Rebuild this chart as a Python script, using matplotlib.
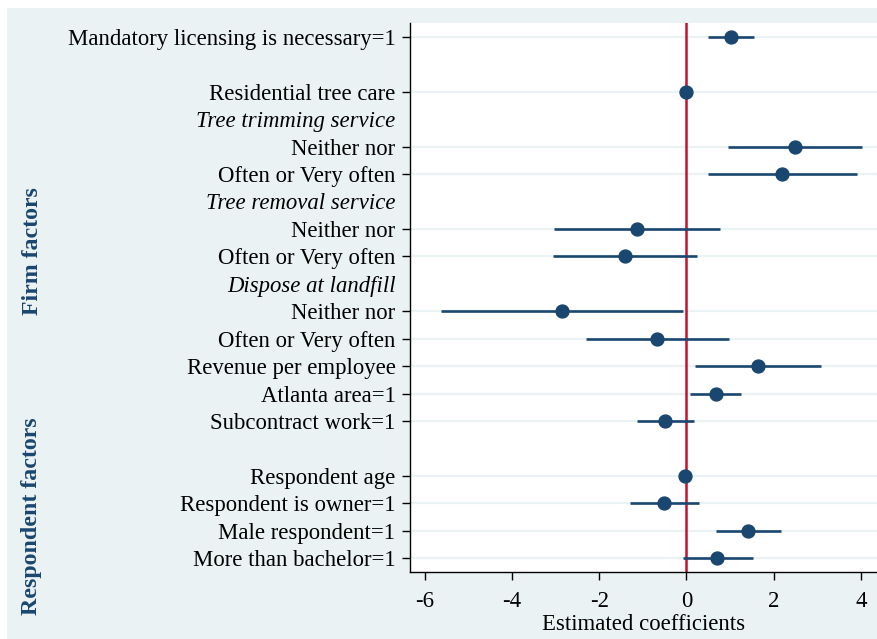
import matplotlib
matplotlib.use("Agg")
import matplotlib.pyplot as plt
import matplotlib.transforms as mtransforms
from matplotlib.patches import Rectangle
import numpy as np

plt.rcParams["font.family"] = ["Liberation Serif", "DejaVu Serif"]

# rows from top to bottom; "" is an empty spacer row
row_labels = [
    "Mandatory licensing is necessary=1",
    "",
    "Residential tree care",
    "Tree trimming service",
    "Neither nor",
    "Often or Very often",
    "Tree removal service",
    "Neither nor",
    "Often or Very often",
    "Dispose at landfill",
    "Neither nor",
    "Often or Very often",
    "Revenue per employee",
    "Atlanta area=1",
    "Subcontract work=1",
    "",
    "Respondent age",
    "Respondent is owner=1",
    "Male respondent=1",
    "More than bachelor=1",
]
header_rows = [3, 6, 9]
coef = [1.02, None, 0.0, None, 2.48, 2.19, None, -1.13, -1.41, None,
        -2.86, -0.68, 1.65, 0.67, -0.49, None, -0.03, -0.51, 1.42, 0.71]
ci_low = [0.49, None, -0.02, None, 0.95, 0.49, None, -3.03, -3.06, None,
          -5.63, -2.31, 0.20, 0.08, -1.14, None, -0.06, -1.30, 0.67, -0.08]
ci_high = [1.54, None, 0.02, None, 4.02, 3.91, None, 0.77, 0.25, None,
           -0.09, 0.97, 3.08, 1.26, 0.17, None, 0.00, 0.28, 2.17, 1.52]
# group label, centre row
groups = [("Firm factors", 7.8), ("Respondent factors", 17.45)]
xticks = [-6, -4, -2, 0, 2, 4]

navy = "#1a476f"
bg = "#eaf2f3"
fs = 16.4

fig = plt.figure(figsize=(8.77, 6.39), dpi=100)
fig.patch.set_facecolor("white")
fig.patches.append(Rectangle((7 / 877, 0), 1, 1 - 8 / 639, transform=fig.transFigure,
                             facecolor=bg, edgecolor="none", zorder=-10))

ax = fig.add_axes([410 / 877, 1 - 572 / 639, 1 - 410 / 877, (572 - 23) / 639])
ax.set_facecolor("white")

ypos = np.arange(len(row_labels))
for i in range(len(row_labels)):
    if coef[i] is None:
        continue
    ax.axhline(i, color=bg, lw=1.6, zorder=0)
ax.axvline(0, color="#c8102e", lw=1.8, zorder=1)
for i in range(len(row_labels)):
    if coef[i] is None:
        continue
    ax.plot([ci_low[i], ci_high[i]], [i, i], color=navy, lw=1.9, zorder=2,
            solid_capstyle="butt")
    ax.plot(coef[i], i, "o", color=navy, ms=9.3, zorder=3)

ax.set_xlim(-6.34, 4.37)
ax.set_ylim(len(row_labels) - 0.5, -0.5)
ax.set_xticks(xticks)
ax.set_xticklabels([str(t) for t in xticks], fontsize=fs)
ax.set_yticks(ypos)
ax.set_yticklabels(row_labels, fontsize=fs)
ax.tick_params(axis="y", length=6, width=1, pad=4.5)
ax.tick_params(axis="x", length=6, width=1, pad=8)
for i, t in enumerate(ax.yaxis.get_major_ticks()):
    if coef[i] is None:
        t.tick1line.set_visible(False)
    if i in header_rows:
        t.label1.set_fontstyle("italic")
ax.set_xlabel("Estimated coefficients", fontsize=fs, labelpad=1)

for s in ["top", "right"]:
    ax.spines[s].set_visible(False)
ax.spines["left"].set_linewidth(1)
ax.spines["bottom"].set_linewidth(1)

tr = mtransforms.blended_transform_factory(fig.transFigure, ax.transData)
for name, yc in groups:
    ax.text(32 / 877, yc, name, transform=tr, rotation=90, ha="center",
            va="center", fontsize=17.2, fontweight="bold", color=navy)

fig.savefig("out.png", dpi=100)
